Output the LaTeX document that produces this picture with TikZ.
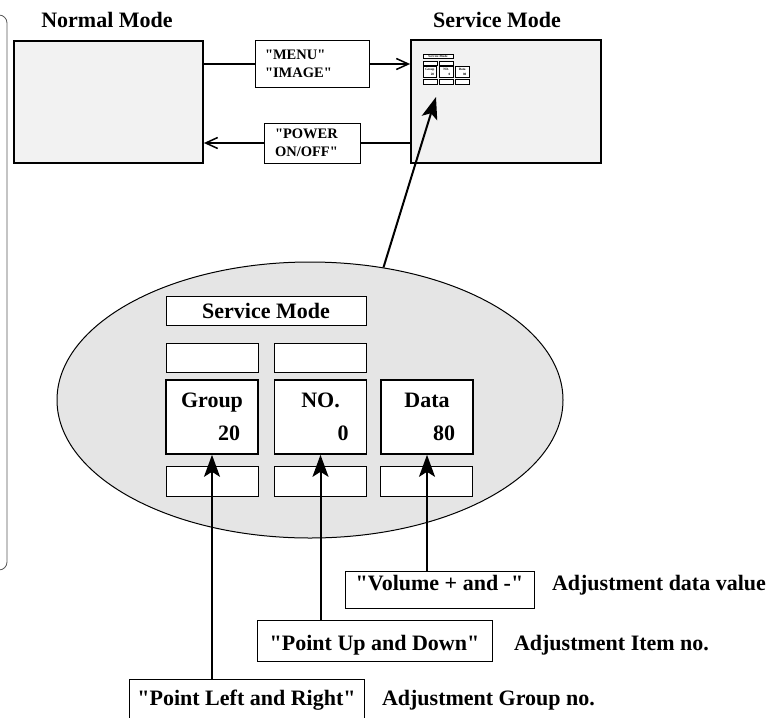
\documentclass[tikz,border=0pt]{standalone}
\usepackage{fontspec}
\setmainfont{Liberation Serif}[Ligatures=TeXOff]
\usetikzlibrary{arrows.meta,shapes.geometric}

\tikzset{
  bigtext/.style={font=\bfseries\fontsize{22}{26}\selectfont},
  smalltext/.style={font=\bfseries\fontsize{14.5}{18}\selectfont},
  modebox/.style={draw, line width=1.8pt, fill=black!5, inner sep=0pt},
  keybox/.style={draw, line width=1pt, fill=white, inner sep=0pt},
  scrbox/.style={draw, line width=1pt, fill=white, inner sep=0pt, minimum width=92pt},
  scrmain/.style={scrbox, line width=1.6pt, minimum height=74pt, align=center,
    font=\bfseries\fontsize{22}{33}\selectfont},
  link/.style={line width=1.5pt},
  openarrow/.style={link, -{Straight Barb[length=12pt,width=11pt]}},
  pointer/.style={line width=2pt, -{Stealth[length=22pt,width=16pt,inset=5pt]}},
}

% service mode screen, #1 = prefix of the node names
\newcommand\servicescreen[1]{
  \node[scrbox, bigtext, minimum width=200pt, minimum height=29pt] (#1bar) at (100,14.5) {Service Mode};
  \node[scrbox, minimum height=29pt] (#1topa) at (46,61.5) {};
  \node[scrbox, minimum height=29pt] (#1topb) at (154.5,61.5) {};
  \node[scrmain] (#1grp) at (46,121) {\makebox[56pt]{Group}\\\makebox[56pt][r]{20}};
  \node[scrmain] (#1no) at (154.5,121) {\makebox[56pt]{NO.}\\\makebox[56pt][r]{0}};
  \node[scrmain] (#1data) at (261,121) {\makebox[56pt]{Data}\\\makebox[56pt][r]{80}};
  \node[scrbox, minimum height=30pt] (#1bota) at (46,185) {};
  \node[scrbox, minimum height=30pt] (#1botb) at (154.5,185) {};
  \node[scrbox, minimum height=30pt] (#1botc) at (260,185) {};
}

\begin{document}
\begin{tikzpicture}[x=1pt, y=-1pt]
  \useasboundingbox (0,0) rectangle (773,717);
  \clip (0,0) rectangle (773,717);
  % frame cut off by the left edge
  \draw[black!65, line width=0.8pt, rounded corners=8pt] (-20,15) -- (7,15) -- (7,570) -- (-20,570);

  % the two modes
  \node[bigtext] (normaltitle) at (107,20) {Normal Mode};
  \node[bigtext] (servicetitle) at (497,20) {Service Mode};
  \node[modebox, minimum width=189pt, minimum height=122pt] (normal) at (108.5,102) {};
  \node[modebox, minimum width=190pt, minimum height=123pt] (service) at (506,101.5) {};

  \node[keybox, smalltext, minimum width=114pt, minimum height=46pt, text width=94pt, align=left]
    (menu) at (312,64) {"MENU"\\"IMAGE"};
  \node[keybox, smalltext, minimum width=96pt, minimum height=40pt, text width=74pt, align=left]
    (power) at (312,143) {"POWER\\ON/OFF"};

  \draw[link] (normal.east |- menu.west) -- (menu.west);
  \draw[openarrow] (menu.east) -- (service.west |- menu.east);
  \draw[link] (service.west |- power.east) -- (power.east);
  \draw[openarrow] (power.west) -- (normal.east |- power.west);

  % small copy of the screen
  \begin{scope}[shift={(423,54)}, scale=0.15, transform shape,
      scrbox/.append style={line width=0.5pt}, scrmain/.append style={line width=0.8pt}]
    \servicescreen{mini}
  \end{scope}

  % enlarged screen
  \node[ellipse, draw, line width=1pt, fill=black!10, minimum width=506pt, minimum height=276pt,
    inner sep=0pt] (oval) at (310,400) {};
  \begin{scope}[shift={(166,296)}]
    \servicescreen{big}
  \end{scope}
  \coordinate (minitip) at (436,97);
  \draw[pointer] (oval.61) -- (minitip);

  % keys
  \node[keybox, bigtext, minimum width=189pt, text height=14pt, text depth=13pt, inner ysep=5pt]
    (volume) at (439.5,589.5) {"Volume + and -"};
  \node[keybox, bigtext, minimum width=235pt, text height=25pt, text depth=6pt, inner ysep=5pt]
    (updown) at (374.5,640.5) {"Point Up and Down"};
  \node[keybox, bigtext, minimum width=235pt, text height=21pt, text depth=12pt, inner ysep=5pt]
    (leftright) at (246.5,700.5) {"Point Left and Right"};

  \draw[pointer] (biggrp.south |- leftright.north) -- (biggrp.south);
  \draw[pointer] (bigno.south |- updown.north) -- (bigno.south);
  \draw[pointer] (bigdata.south |- volume.north) -- (bigdata.south);

  \node[bigtext, anchor=base west] (datanote) at ([xshift=14pt]volume.base east) {Adjustment data value};
  \node[bigtext, anchor=base west] (itemnote) at ([xshift=18pt]updown.base east) {Adjustment Item no.};
  \node[bigtext, anchor=base west] (groupnote) at ([xshift=14pt]leftright.base east) {Adjustment Group no.};
\end{tikzpicture}
\end{document}
